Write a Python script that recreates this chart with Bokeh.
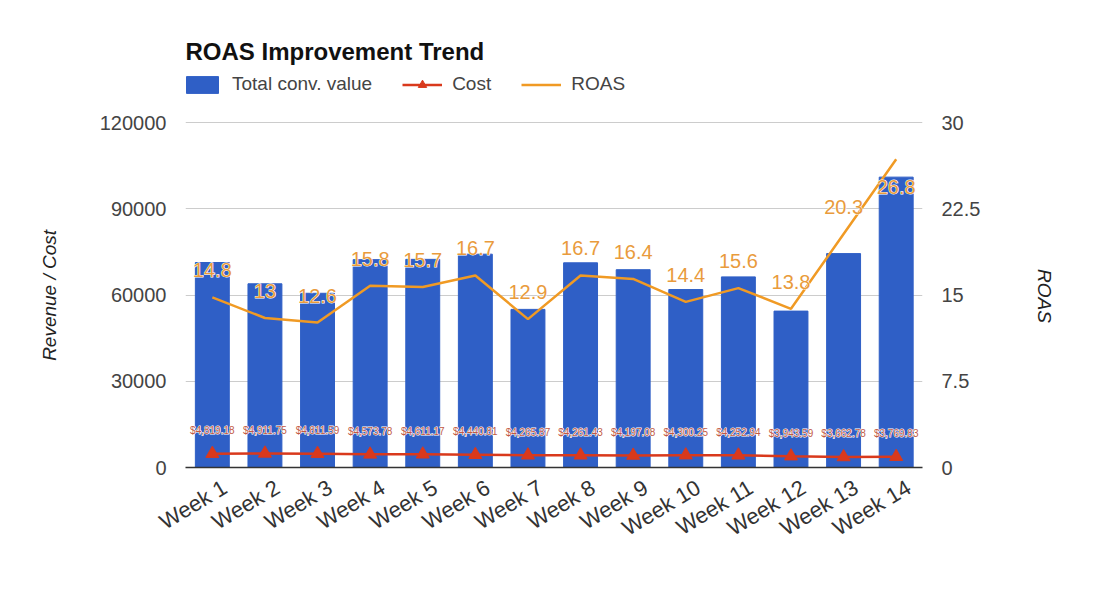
import math
from bokeh.plotting import figure
from bokeh.models import (ColumnDataSource, Range1d, LinearAxis, FixedTicker, LabelSet,
                          Legend, LegendItem, CustomJSTickFormatter, NumeralTickFormatter)
from bokeh.core.properties import value
from bokeh.embed import file_html
from bokeh.resources import INLINE

weeks = ["Week 1", "Week 2", "Week 3", "Week 4", "Week 5", "Week 6", "Week 7",
         "Week 8", "Week 9", "Week 10", "Week 11", "Week 12", "Week 13", "Week 14"]
conv_value = [71300, 63900, 60600, 72300, 72400, 74200, 55000,
              71200, 68800, 61900, 66300, 54400, 74400, 101000]
cost = [4819.18, 4911.75, 4811.59, 4573.78, 4611.17, 4440.81, 4265.87,
        4261.43, 4197.08, 4300.25, 4252.94, 3943.59, 3662.78, 3769.83]
roas = [14.8, 13.0, 12.6, 15.8, 15.7, 16.7, 12.9,
        16.7, 16.4, 14.4, 15.6, 13.8, 20.3, 26.8]
left_ticks = [0, 30000, 60000, 90000, 120000]
right_ticks = [0, 7.5, 15, 22.5, 30]

FONT = "Liberation Sans"
BLUE = "#2f5fc6"
RED = "#d9391c"
ORANGE = "#f09a24"

# layout: the plotting area reaches up to the legend row; the axes' scale is
# 345 px for the 0..120000 (0..30) span, the extra room above holds the legend.
AXIS_PX = 345
EXTRA_PX = 52
FRAME_H = AXIS_PX + EXTRA_PX
left_max = max(left_ticks)
right_max = max(right_ticks)
LABEL_SHIFT = 0.24  # rotated week labels sit slightly right of the bar centre

xs = list(range(len(weeks)))
roas_dy = [27] * (len(weeks) - 1) + [-28]
src = ColumnDataSource(dict(
    x=xs, week=weeks, conv=conv_value, cost=cost, roas=roas,
    cost_lbl=["${:,.2f}".format(c) for c in cost],
    roas_lbl=["{:g}".format(r) for r in roas],
    roas_dy=roas_dy,
))

p = figure(frame_width=737, frame_height=FRAME_H, output_backend="svg", toolbar_location=None,
           x_range=Range1d(-0.51, 13.5),
           y_range=Range1d(0, left_max * FRAME_H / AXIS_PX),
           min_border_left=185, min_border_right=172, min_border_top=70, min_border_bottom=120,
           background_fill_color="white", border_fill_color="white", outline_line_color=None)
p.extra_y_ranges = {"roas": Range1d(0, right_max * FRAME_H / AXIS_PX)}

p.title.text = "ROAS Improvement Trend"
p.title.text_font = FONT
p.title.text_font_size = "24px"
p.title.text_font_style = "bold"
p.title.text_color = "#111111"
p.title.align = "left"
p.title.offset = 0
p.title.standoff = 11

bars = p.vbar(x="x", top="conv", width=0.645, source=src, color=BLUE)
cost_line = p.line(x="x", y="cost", source=src, line_color=RED, line_width=2.5)
cost_pts = p.scatter(x="x", y="cost", source=src, marker="triangle", size=13,
                     fill_color=RED, line_color=RED)
roas_line = p.line(x="x", y="roas", source=src, line_color=ORANGE, line_width=2.5,
                   y_range_name="roas")

# halo layers (white) under the coloured labels
p.add_layout(LabelSet(x="x", y="cost", text="cost_lbl", source=src, y_offset=23,
                      text_align="center", text_baseline="middle", text_font=value(FONT),
                      text_font_size="10px", text_color="white",
                      text_outline_color="white"))
p.add_layout(LabelSet(x="x", y="cost", text="cost_lbl", source=src, y_offset=23,
                      text_align="center", text_baseline="middle", text_font=value(FONT),
                      text_font_size="10px", text_color="#c25a45"))
p.add_layout(LabelSet(x="x", y="roas", text="roas_lbl", source=src, y_offset="roas_dy",
                      y_range_name="roas", text_align="center", text_baseline="middle",
                      text_font=value(FONT), text_font_size="20px", text_color="white",
                      text_outline_color="white"))
p.add_layout(LabelSet(x="x", y="roas", text="roas_lbl", source=src, y_offset="roas_dy",
                      y_range_name="roas", text_align="center", text_baseline="middle",
                      text_font=value(FONT), text_font_size="20px", text_color="#e99b3c"))

PAD = "\u00a0" * 10

# axes
week_ticks = [i + LABEL_SHIFT for i in xs]
p.xaxis.ticker = FixedTicker(ticks=week_ticks)
p.xaxis.major_label_overrides = {t: w for t, w in zip(week_ticks, weeks)}
p.xaxis.major_label_orientation = 0.54
p.xaxis.major_label_text_font = FONT
p.xaxis.major_label_text_font_size = "22px"
p.xaxis.major_label_text_color = "#333333"
p.xaxis.major_tick_line_color = None
p.xaxis.minor_tick_line_color = None
p.xaxis.axis_line_color = "#333333"
p.xaxis.axis_line_width = 1.5
p.xaxis.major_label_standoff = 12
p.xgrid.grid_line_color = None

p.yaxis.ticker = FixedTicker(ticks=left_ticks)
p.yaxis.formatter = NumeralTickFormatter(format="0")
p.yaxis.axis_label = "Revenue / Cost" + PAD
p.yaxis.axis_label_text_font = FONT
p.yaxis.axis_label_text_font_style = "italic"
p.yaxis.axis_label_text_font_size = "19px"
p.yaxis.axis_label_text_color = "#222222"
p.yaxis.axis_label_standoff = 37
p.yaxis.major_label_text_font = FONT
p.yaxis.major_label_text_font_size = "20px"
p.yaxis.major_label_text_color = "#444444"
p.yaxis.major_label_standoff = 13
p.yaxis.axis_line_color = None
p.yaxis.major_tick_line_color = None
p.yaxis.minor_tick_line_color = None
p.ygrid.grid_line_color = "#cccccc"
p.ygrid.grid_line_width = 1.2

raxis = LinearAxis(y_range_name="roas", ticker=FixedTicker(ticks=right_ticks),
                   formatter=CustomJSTickFormatter(code="return tick.toString();"))
raxis.axis_label = "ROAS" + PAD
raxis.axis_label_orientation = -math.pi / 2
raxis.axis_label_text_font = FONT
raxis.axis_label_text_font_style = "italic"
raxis.axis_label_text_font_size = "19px"
raxis.axis_label_text_color = "#222222"
raxis.axis_label_standoff = 61
raxis.major_label_text_font = FONT
raxis.major_label_text_font_size = "20px"
raxis.major_label_text_color = "#444444"
raxis.major_label_standoff = 13
raxis.axis_line_color = None
raxis.major_tick_line_color = None
raxis.minor_tick_line_color = None
p.add_layout(raxis, "right")

legend = Legend(items=[
    LegendItem(label="Total conv. value", renderers=[bars]),
    LegendItem(label="Cost", renderers=[cost_line, cost_pts]),
    LegendItem(label="ROAS", renderers=[roas_line]),
], orientation="horizontal", location=(-3, 372), glyph_width=40, glyph_height=21,
   label_standoff=10, spacing=30, padding=0, margin=0,
   label_text_font=FONT, label_text_font_size="19px", label_text_color="#444444",
   background_fill_alpha=0, border_line_color=None)
p.add_layout(legend, "center")

open("out.html", "w").write(file_html(p, INLINE))
